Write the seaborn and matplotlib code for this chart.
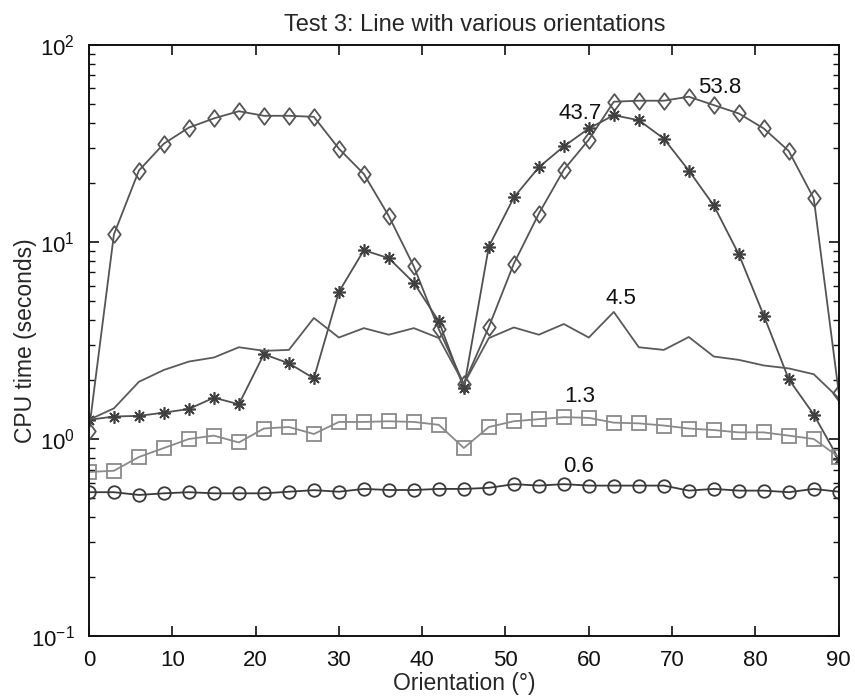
import numpy as np
import pandas as pd
import matplotlib
matplotlib.use("Agg")
import matplotlib.pyplot as plt
import seaborn as sns
from matplotlib.ticker import LogLocator, MultipleLocator
from matplotlib.path import Path

# ---- data ----
orientation = list(range(0, 91, 3))

diamonds = [1.10, 10.9, 23.0, 31.5, 38.0, 42.3, 46.0, 43.6, 43.6, 43.1, 29.7,
            22.1, 13.5, 7.5, 3.6, 1.9, 3.7, 7.75, 13.9, 23.2, 33.0, 51.4,
            52.0, 52.0, 54.5, 49.4, 44.8, 37.6, 28.9, 16.6, 1.72]

stars = [1.25, 1.30, 1.31, 1.36, 1.42, 1.62, 1.50, 2.69, 2.42, 2.03, 5.57,
         9.07, 8.26, 6.20, 3.95, 1.81, 9.46, 16.8, 23.9, 30.5, 37.6, 43.9,
         41.4, 33.4, 23.0, 15.3, 8.65, 4.23, 2.01, 1.33, 0.79]

plain = [1.25, 1.43, 1.95, 2.24, 2.47, 2.59, 2.92, 2.80, 2.83, 4.11, 3.27,
         3.65, 3.38, 3.65, 3.25, 1.90, 3.25, 3.68, 3.38, 3.83, 3.27, 4.41,
         2.92, 2.83, 3.29, 2.62, 2.52, 2.36, 2.28, 2.13, 1.61]

squares = [0.68, 0.69, 0.81, 0.90, 1.00, 1.04, 0.96, 1.13, 1.15, 1.06, 1.22,
           1.22, 1.23, 1.22, 1.18, 0.90, 1.15, 1.23, 1.26, 1.29, 1.28, 1.21,
           1.20, 1.17, 1.13, 1.11, 1.08, 1.08, 1.04, 1.00, 0.81]

circles = [0.537, 0.537, 0.52, 0.53, 0.537, 0.53, 0.53, 0.53, 0.54, 0.55, 0.54,
           0.558, 0.551, 0.551, 0.558, 0.558, 0.565, 0.59, 0.58, 0.59, 0.58, 0.58,
           0.58, 0.58, 0.547, 0.558, 0.547, 0.547, 0.537, 0.558, 0.54]

annot_text = ["53.8", "43.7", "4.5", "1.3", "0.6"]
annot_x = [75.7, 58.9, 63.9, 58.9, 58.8]
annot_y = [60.4, 45.0, 5.14, 1.64, 0.726]

title = "Test 3: Line with various orientations"
xlabel = "Orientation (°)"
ylabel = "CPU time (seconds)"

# ---- plot ----
sns.set_style("ticks")
plt.rcParams['font.family'] = ['Liberation Sans', 'DejaVu Sans']
plt.rcParams['mathtext.fontset'] = 'custom'
plt.rcParams['mathtext.rm'] = 'Liberation Sans'

diamond_marker = Path([(0, 1), (0.75, 0), (0, -1), (-0.75, 0), (0, 1)],
                      [Path.MOVETO, Path.LINETO, Path.LINETO, Path.LINETO, Path.CLOSEPOLY])

fig = plt.figure(figsize=(8.55, 6.99), dpi=100)
ax = fig.add_axes([0.104, 0.090, 0.877, 0.846])

df = pd.DataFrame({"x": orientation, "d": diamonds, "s": stars,
                   "p": plain, "q": squares, "c": circles})

sns.lineplot(data=df, x="x", y="d", ax=ax, color="#555555", lw=1.3,
             marker=diamond_marker, markersize=12, markerfacecolor="none",
             markeredgecolor="#555555", markeredgewidth=1.3)
sns.lineplot(data=df, x="x", y="s", ax=ax, color="#505050", lw=1.3,
             marker=(8, 2, 0), markersize=9,
             markeredgecolor="#404040", markeredgewidth=1.2)
sns.lineplot(data=df, x="x", y="p", ax=ax, color="#5a5a5a", lw=1.3)
sns.lineplot(data=df, x="x", y="q", ax=ax, color="#8a8a8a", lw=1.3,
             marker="s", markersize=10, markerfacecolor="none",
             markeredgecolor="#8a8a8a", markeredgewidth=1.3)
sns.lineplot(data=df, x="x", y="c", ax=ax, color="#3a3a3a", lw=1.3,
             marker="o", markersize=9, markerfacecolor="none",
             markeredgecolor="#3a3a3a", markeredgewidth=1.3)

for t, xx, yy in zip(annot_text, annot_x, annot_y):
    ax.text(xx, yy, t, ha="center", va="center", fontsize=16, color="#111111")

ax.set_yscale("log")
ax.set_xlim(0, 90)
ax.set_ylim(0.1, 100)
ax.xaxis.set_major_locator(MultipleLocator(10))
ax.yaxis.set_major_locator(LogLocator(base=10, numticks=10))
ax.yaxis.set_minor_locator(LogLocator(base=10, subs=np.arange(2, 10), numticks=10))

ax.tick_params(axis="both", which="both", direction="in", top=True, right=True,
               labelsize=16, colors="#111111")
ax.tick_params(axis="both", which="major", length=7, width=1.2)
ax.tick_params(axis="x", which="major", pad=10)
ax.tick_params(axis="y", which="major", pad=10)
ax.tick_params(axis="y", which="minor", length=4, width=1.0)
for sp in ax.spines.values():
    sp.set_linewidth(1.4)
    sp.set_color("#111111")

ax.set_title(title, fontsize=17, pad=10, x=0.515)
ax.set_xlabel(xlabel, fontsize=16.5, labelpad=1)
ax.set_ylabel(ylabel, fontsize=16.5, labelpad=-4)

fig.savefig("out.png", dpi=100)
